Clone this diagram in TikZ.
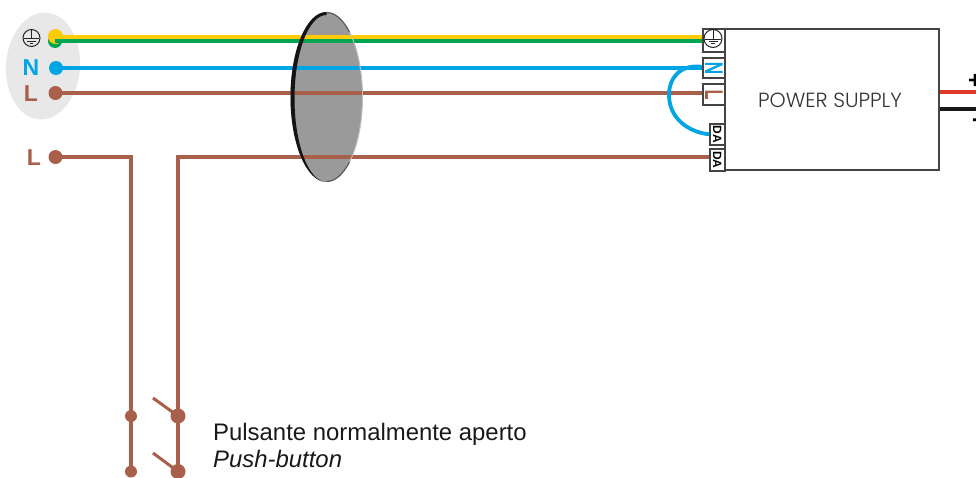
\documentclass[tikz,border=0pt]{standalone}
\usepackage{fontspec}
\usepackage{graphicx}
\setmainfont{Liberation Sans}
\newfontfamily\geo{Poppins Light}
\newfontfamily\termfont[FakeBold=4]{Liberation Sans}
\definecolor{wbrown}{HTML}{A9604A}
\definecolor{wblue}{HTML}{00A5E6}
\definecolor{wyellow}{HTML}{FFCB05}
\definecolor{wgreen}{HTML}{00A651}
\definecolor{wgrey}{HTML}{9A9A9A}
\definecolor{wdark}{HTML}{444444}
\definecolor{wred}{HTML}{E03A2A}
\tikzset{
  wire/.style={line width=3.8pt},
  dotnode/.style={circle,inner sep=0pt,minimum size=#1},
  term/.style={draw=wdark,line width=1.6pt,fill=white,inner sep=0pt,anchor=north west},
  bigl/.style={font=\bfseries\fontsize{23}{23}\selectfont,inner sep=0pt},
  termletter/.style={rotate=-90,font=\termfont\fontsize{24}{24}\selectfont,inner sep=0pt},
  termda/.style={rotate=-90,font=\bfseries\fontsize{12}{12}\selectfont,inner sep=0pt},
}
\begin{document}
\begin{tikzpicture}[x=1pt,y=-1pt]
\useasboundingbox (0,0) rectangle (976,477);
% mains plate
\fill[white!91!black,rotate around={-4:(43,66)}] (43,66) ellipse [x radius=37,y radius=53.5];
\draw[white,line width=0.8pt] (62,18) arc [start angle=60,end angle=-60,x radius=34,y radius=52];
% cable gland
\fill[wgrey] (326.5,97) ellipse [x radius=36,y radius=85];
% nodes
\node[dotnode=14pt,fill=wgreen] (eg) at (55,41) {};
\node[dotnode=15pt,fill=wyellow] (ey) at (55.5,36.5) {};
\node[dotnode=14pt,fill=wblue] (nn) at (56,68) {};
\node[dotnode=14pt,fill=wbrown] (ll) at (55.5,93) {};
\node[dotnode=14pt,fill=wbrown] (l2) at (55.5,157) {};
\node[dotnode=12pt,fill=wbrown] (sa1) at (131,416) {};
\node[dotnode=12pt,fill=wbrown] (sa2) at (131,471.5) {};
\node[dotnode=15pt,fill=wbrown] (sb1) at (178,416) {};
\node[dotnode=15pt,fill=wbrown] (sb2) at (178,471.5) {};
% box and terminals
\node[draw=wdark,line width=1.8pt,fill=white,minimum width=214pt,minimum height=141pt,anchor=north west,inner sep=0pt] (ps) at (724,28) {};
\node[font=\geo\fontsize{20.5}{20}\selectfont,text=black!80] (pst) at (830,100) {POWER SUPPLY};
\node[term,minimum width=22pt,minimum height=23pt] (te) at (702,28) {};
\node[term,minimum width=22pt,minimum height=20pt] (tn) at (702,57) {};
\node[term,minimum width=22pt,minimum height=21pt] (tl) at (702,83) {};
\node[term,minimum width=15pt,minimum height=21pt] (td1) at (709,123) {};
\node[term,minimum width=15pt,minimum height=22pt] (td2) at (709,148) {};
\node[termletter,text=wblue] (tnl) at (tn.center) {\scalebox{0.7}[1]{N}};
\node[termletter,text=wbrown] (tll) at (tl.center) {\scalebox{0.7}[1]{L}};
\node[termda] (td1l) at (td1.center) {DA};
\node[termda] (td2l) at (td2.center) {DA};
% wires
\draw[line width=4pt,wgreen] (eg.center) -- (te.west |- eg);
\draw[line width=4.2pt,wyellow] (ey.center |- 0,37) -- (te.west |- 0,37);
\draw[wire,wblue] (nn.center) -- (tn.west |- nn);
\draw[wire,wbrown] (ll.center) -- (tl.west |- ll);
\draw[wire,wbrown] (l2.center) -- (131,157) -- (sa1.center);
\draw[wire,wbrown] (sa1.center) -- (sa2.center);
\draw[wire,wbrown] (td2.west |- 0,157) -- (178,157) -- (sb1.center);
\draw[wire,wbrown] (sb1.center) -- (sb2.center);
\draw[line width=3pt,wbrown] (153,398) -- (sb1.center);
\draw[line width=3pt,wbrown] (153,453) -- (sb2.center);
\draw[wire,wblue] (tn.west) ++(0,-1) .. controls (680,64) and (669,78) .. (669,95) .. controls (669,118) and (688,132) .. (td1.west);
\draw[wire,wred] (ps.east |- 0,92) -- (976,92);
\draw[wire,black!90] (ps.east |- 0,109) -- (976,109);
% gland rim over the wires
\fill[black!92] (326.5,12) arc [start angle=270,end angle=90,x radius=36,y radius=85]
  arc [start angle=90,end angle=270,x radius=32,y radius=83.5] -- cycle;
\draw[line width=1.1pt,black!65] (326.5,12.5) arc [start angle=270,end angle=310,x radius=36,y radius=84.5];
\draw[line width=1.1pt,black!65] (326.5,181.5) arc [start angle=90,end angle=50,x radius=36,y radius=84.5];
\draw[line width=1pt,black!25] (349.6,32.3) arc [start angle=310,end angle=410,x radius=36,y radius=84.5];
% earth symbols
\foreach \cx/\cy/\rr/\lw in {31.5/38/8.5/1,713/38.5/9/1}{
  \begin{scope}[shift={(\cx,\cy)},line width=\lw pt,black!85]
    \draw (0,0) circle [radius=\rr];
    \draw (0,-\rr) -- (0,0.5);
    \draw (-\rr+1,0.5) -- (\rr-1,0.5);
    \draw (-\rr*0.5,3) -- (\rr*0.5,3);
    \draw (-\rr*0.2,5.2) -- (\rr*0.2,5.2);
  \end{scope}
}
% letters
\node[bigl,text=wblue] (ln) at (31,68) {N};
\node[bigl,text=wbrown] (lb) at (31,94) {L};
\node[bigl,text=wbrown] (lc) at (34,158) {L};
% polarity
\node[font=\bfseries\fontsize{24}{24}\selectfont,inner sep=0pt] (pp) at (975,81) {+};
\node[font=\bfseries\fontsize{24}{24}\selectfont,inner sep=0pt] (pm) at (976,123) {-};
% caption
\node[anchor=base west,inner sep=0pt,font=\fontsize{23.9}{24}\selectfont,text=black!90] (c1) at (213,440) {Pulsante normalmente aperto};
\node[anchor=base west,inner sep=0pt,font=\itshape\fontsize{23.9}{24}\selectfont,text=black!90] (c2) at (213,467) {Push-button};
\end{tikzpicture}
\end{document}
